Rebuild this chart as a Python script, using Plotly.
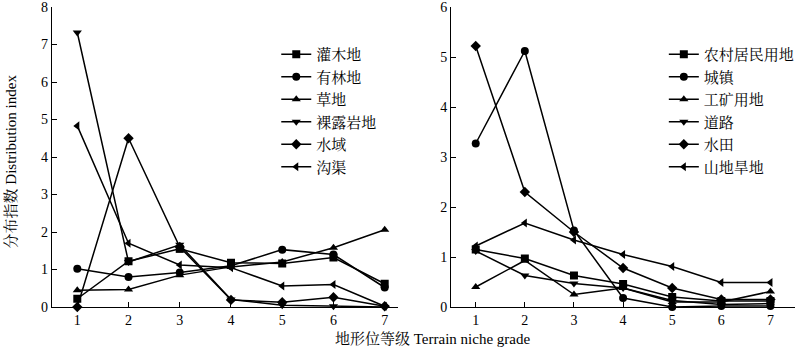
import plotly.graph_objects as go

grades = [1, 2, 3, 4, 5, 6, 7]

left_names = ["灌木地", "有林地", "草地", "裸露岩地", "水域", "沟渠"]
guanmu = [0.22, 1.22, 1.55, 1.18, 1.16, 1.32, 0.62]
youlin = [1.02, 0.80, 0.92, 1.10, 1.53, 1.40, 0.52]
caodi = [0.45, 0.47, 0.85, 1.07, 1.20, 1.58, 2.06]
luolu = [7.32, 1.20, 1.66, 0.20, 0.05, 0.02, 0.00]
shuiyu = [0.00, 4.50, 1.60, 0.19, 0.13, 0.26, 0.02]
gouqu = [4.83, 1.70, 1.12, 1.05, 0.56, 0.60, 0.02]
left_values = [guanmu, youlin, caodi, luolu, shuiyu, gouqu]

right_names = ["农村居民用地", "城镇", "工矿用地", "道路", "水田", "山地旱地"]
nongcun = [1.15, 0.97, 0.63, 0.46, 0.20, 0.12, 0.12]
chengzhen = [3.27, 5.12, 1.53, 0.18, 0.00, 0.02, 0.02]
gongkuang = [0.40, 0.93, 0.25, 0.38, 0.10, 0.10, 0.31]
daolu = [1.12, 0.63, 0.47, 0.38, 0.13, 0.05, 0.07]
shuitian = [5.22, 2.30, 1.50, 0.78, 0.38, 0.15, 0.15]
shandi = [1.22, 1.68, 1.34, 1.05, 0.81, 0.49, 0.49]
right_values = [nongcun, chengzhen, gongkuang, daolu, shuitian, shandi]

symbols = ["square", "circle", "triangle-up", "triangle-down", "diamond", "triangle-left"]

FONT = "Liberation Serif, Times New Roman, Noto Serif CJK SC, Noto Sans CJK SC, serif"

fig = go.Figure()
for name, vals, sym in zip(left_names, left_values, symbols):
    fig.add_trace(go.Scatter(x=grades, y=vals, name=name, mode="lines+markers",
                             line=dict(color="black", width=1.5),
                             marker=dict(symbol=sym, size=8, color="black"),
                             xaxis="x", yaxis="y", legend="legend", cliponaxis=False))
for name, vals, sym in zip(right_names, right_values, symbols):
    fig.add_trace(go.Scatter(x=grades, y=vals, name=name, mode="lines+markers",
                             line=dict(color="black", width=1.5),
                             marker=dict(symbol=sym, size=8, color="black"),
                             xaxis="x2", yaxis="y2", legend="legend2", cliponaxis=False))

W, H = 800, 351
ydom = [(H - 307) / H, (H - 7) / H]
axis_common = dict(showline=True, linecolor="black", linewidth=1, ticks="inside",
                   ticklen=5, tickcolor="black", showgrid=False, zeroline=False,
                   automargin=False, ticklabeloverflow="allow",
                   tickfont=dict(family=FONT, size=14, color="black"))

fig.update_layout(
    width=W, height=H,
    margin=dict(l=0, r=0, t=0, b=0),
    paper_bgcolor="white", plot_bgcolor="white",
    font=dict(family=FONT, size=14, color="black"),
    xaxis=dict(domain=[52 / W, 400 / W], range=[0.5, 7.25], tickvals=grades, **axis_common),
    yaxis=dict(domain=ydom, range=[0, 8], tickvals=list(range(0, 9)), **axis_common),
    xaxis2=dict(domain=[454 / W, 1.0], range=[0.5, 7.5], tickvals=grades, anchor="y2", **axis_common),
    yaxis2=dict(domain=ydom, range=[0, 6], tickvals=list(range(0, 7)), anchor="x2", **axis_common),
    legend=dict(x=278 / W, y=(H - 38) / H, xanchor="left", yanchor="top", bgcolor="rgba(0,0,0,0)",
                font=dict(family=FONT, size=15), itemwidth=30, tracegroupgap=0),
    legend2=dict(x=668 / W, y=(H - 38) / H, xanchor="left", yanchor="top", bgcolor="rgba(0,0,0,0)",
                 font=dict(family=FONT, size=15), itemwidth=30, tracegroupgap=0),
    annotations=[
        dict(text="分布指数 Distribution index", x=12 / W, y=0.54, xref="paper", yref="paper",
             textangle=-90, showarrow=False, xanchor="center", yanchor="middle",
             font=dict(family=FONT, size=15)),
        dict(text="地形位等级 Terrain niche grade", x=435 / W, y=(H - 338) / H, xref="paper", yref="paper",
             showarrow=False, xanchor="center", yanchor="middle", font=dict(family=FONT, size=15)),
    ],
)

fig.write_html("out.html")
